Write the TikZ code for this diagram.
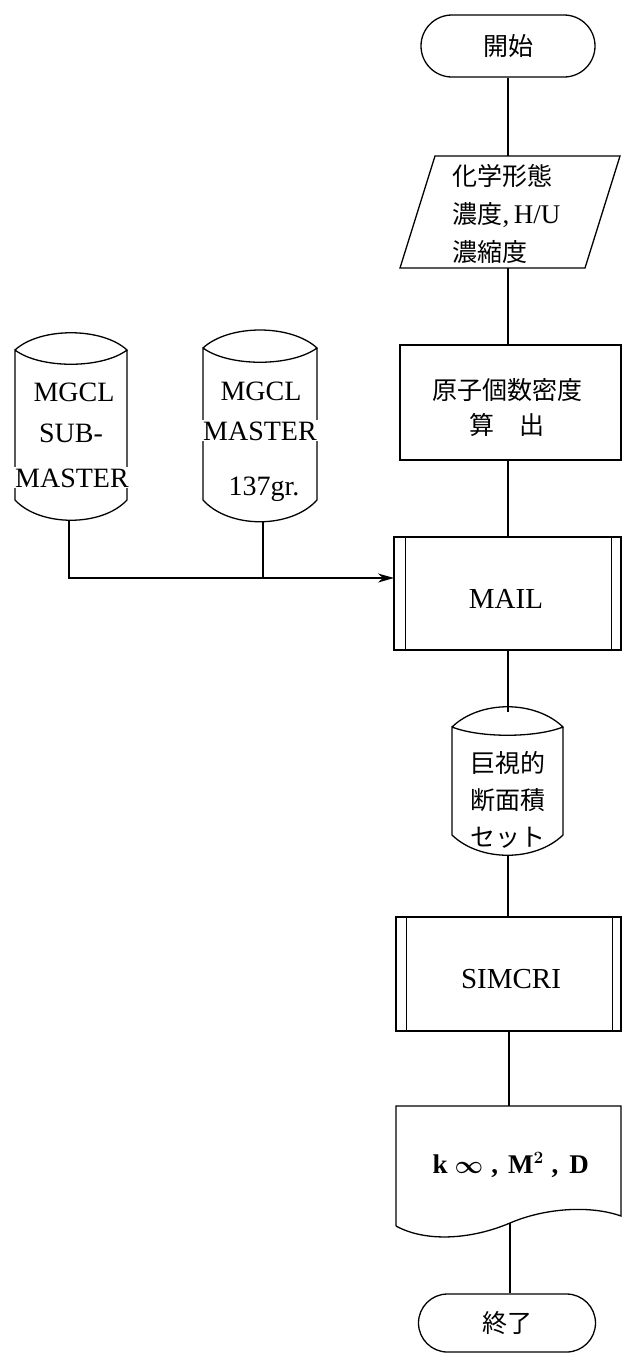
\documentclass[tikz,border=0pt]{standalone}
\usepackage{fontspec}
\setmainfont{Liberation Serif}
\newfontfamily\jpf{Noto Sans CJK JP}
\usetikzlibrary{arrows.meta}
\begin{document}
\begin{tikzpicture}[x=1pt,y=-1pt,line width=1.3pt,
  lat/.style={font=\fontsize{28}{30}\selectfont, inner sep=0pt, anchor=base},
  latbig/.style={font=\fontsize{29}{30}\selectfont, inner sep=0pt, anchor=base},
  jpt/.style={font=\jpf\fontsize{25}{30}\selectfont, inner sep=0pt, anchor=base},
  termbox/.style={draw, rectangle, inner sep=0pt, font=\jpf\fontsize{25}{30}\selectfont},
  procbox/.style={draw, rectangle, inner sep=0pt},
  cut/.style={fill=white, inner sep=1pt},
  arr/.style={-{Stealth[length=16pt,width=9pt,inset=5pt]}}]

\useasboundingbox (0,0) rectangle (622,1353);

% start
\node[termbox, minimum width=174pt, minimum height=62pt, rounded corners=31pt] (start) at (508,46) {開始};

% input (parallelogram)
\draw (435,156) -- (620,156) -- (585,268) -- (400,268) -- cycle;
\coordinate (inT) at (508,156);
\coordinate (inB) at (508,268);
\node[jpt, anchor=base west] (in1) at (452,185) {化学形態};
\node[jpt, anchor=base west] (in2) at (452,223) {濃度{\rmfamily\fontsize{27}{30}\selectfont ,\,H/U}};
\node[jpt, anchor=base west] (in3) at (452,261) {濃縮度};

% calculation box
\node[procbox, minimum width=221pt, minimum height=115pt] (calc) at (510.5,402.5) {};
\node[jpt] (calc1) at (507,399.5) {原子個数密度};
\node[jpt] (calc2) at (507,434.5) {算\hspace{1em}出};

% MAIL
\node[procbox, minimum width=227pt, minimum height=113pt] (mail) at (507.5,593.5) {};
\draw (mail.north west) ++(12,0) -- ++(0,113);
\draw (mail.north east) ++(-10,0) -- ++(0,113);
\node[latbig] (mailtxt) at (506,608) {MAIL};

% drum 1
\draw (15,350) .. controls (40,327) and (102,327) .. (127,350)
      .. controls (102,369) and (40,369) .. (15,350)
      -- (15,500) .. controls (40,527) and (102,527) .. (127,500) -- (127,350);
\coordinate (d1b) at (69,520);
\node[lat] (d1a) at (74,401) {MGCL};
\node[lat] (d1c) at (71,442) {SUB-};
\node[lat, cut, anchor=base] (d1d) at (72,487) {MASTER};

% drum 2
\draw (203,348) .. controls (229,324) and (291,324) .. (317,348)
      .. controls (291,367) and (229,367) .. (203,348)
      -- (203,500) .. controls (229,529) and (291,529) .. (317,500) -- (317,348);
\coordinate (d2b) at (263,522);
\node[lat] (d2a) at (261,400) {MGCL};
\node[lat, cut, anchor=base] (d2c) at (260,440) {MASTER};
\node[lat] (d2d) at (264,495) {137gr.};

% arrow into MAIL
\coordinate (mailin) at (394,578);
\draw[arr] (d1b) |- (mailin);
\draw (d2b) -- (d2b |- mailin);

% drum 3
\draw (452,727) .. controls (480,700) and (535,700) .. (563,727)
      .. controls (535,738) and (480,738) .. (452,727)
      -- (452,835) .. controls (480,862) and (535,862) .. (563,835) -- (563,727);
\coordinate (d3t) at (508,712);
\coordinate (d3b) at (508,855);
\node[jpt] (d3a) at (508,772) {巨視的};
\node[jpt] (d3c) at (508,809) {断面積};
\node[jpt] (d3d) at (508,846) {セット};

% SIMCRI
\node[procbox, minimum width=225pt, minimum height=114pt] (simcri) at (508.5,974) {};
\draw (simcri.north west) ++(11,0) -- ++(0,114);
\draw (simcri.north east) ++(-9,0) -- ++(0,114);
\node[latbig] (simtxt) at (511,988) {SIMCRI};

% document
\draw (396,1226) -- (396,1106) -- (621,1106) -- (621,1216)
      .. controls (590,1205) and (545,1208) .. (510,1223)
      .. controls (470,1240) and (425,1242) .. (396,1226);
\coordinate (docT) at (509,1106);
\coordinate (docB) at (510,1223);
\node[lat, font=\fontsize{27}{30}\selectfont\bfseries\boldmath, anchor=base west] (doctxt) at (432,1173)
  {k\hspace{7pt}$\infty$\hspace{8pt},\hspace{10pt}M$^{2}$\hspace{8pt},\hspace{11pt}D};

% end
\node[termbox, minimum width=177pt, minimum height=58pt, rounded corners=29pt] (stop) at (507,1323) {終了};

% connectors
\draw (start.south) -- (inT);
\draw (inB) -- (inB |- calc.north);
\draw (inB |- calc.south) -- (inB |- mail.north);
\draw (inB |- mail.south) -- (d3t);
\draw (d3b) -- (d3b |- simcri.north);
\draw (docT |- simcri.south) -- (docT);
\draw (docB) -- (docB |- stop.north);
\end{tikzpicture}
\end{document}
